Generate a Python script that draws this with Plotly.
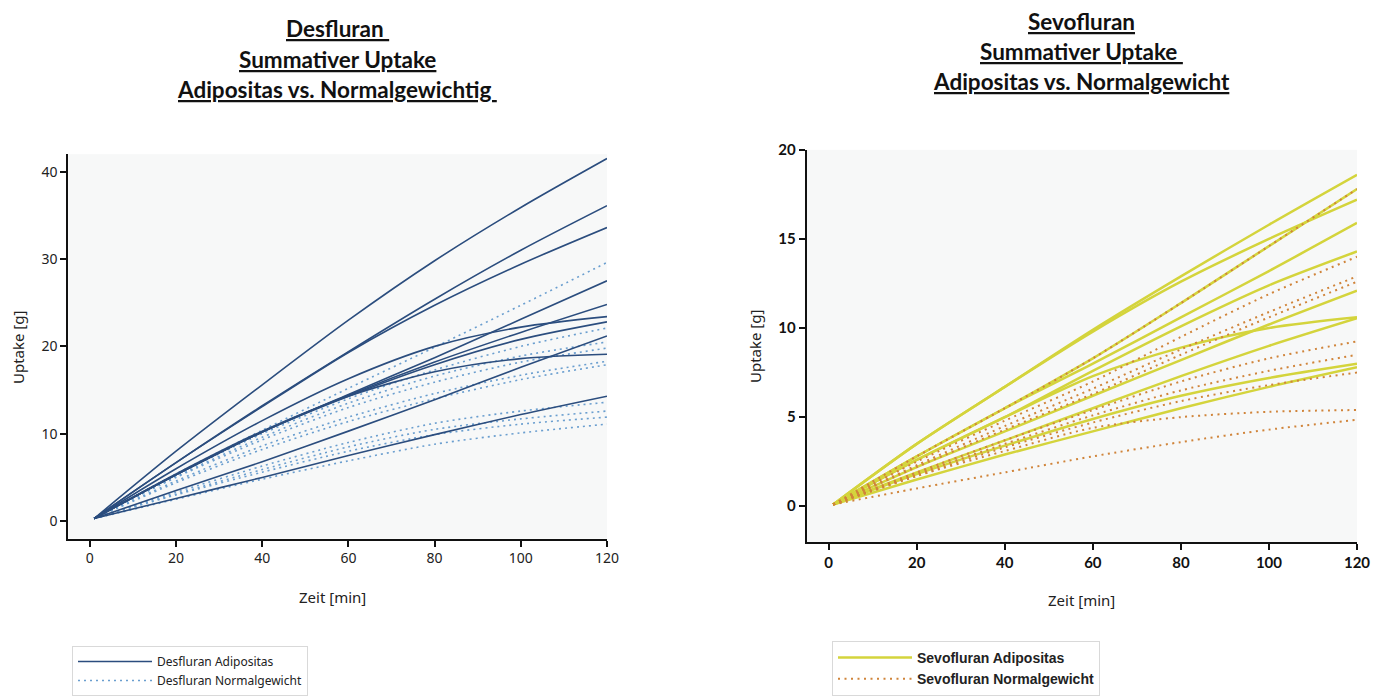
import plotly.graph_objects as go

# page body has an 8px default margin, so the figure is slightly smaller
OFF = 8
W, H = 1381 - OFF, 696 - OFF

# ---------------- data ----------------
time_min = [1, 20, 40, 60, 80, 100, 120]

des_adipositas = [
    [0.3, 8.0, 15.6, 23.0, 29.8, 35.9, 41.5],
    [0.3, 6.7, 13.2, 19.4, 25.4, 31.0, 36.1],
    [0.3, 6.7, 13.1, 19.3, 24.7, 29.4, 33.6],
    [0.3, 6.0, 11.5, 16.3, 20.0, 22.2, 23.4],
    [0.3, 5.3, 10.2, 14.5, 18.7, 23.1, 27.5],
    [0.3, 5.3, 10.2, 14.4, 18.2, 21.6, 24.8],
    [0.3, 5.3, 10.2, 14.3, 17.9, 20.8, 22.8],
    [0.3, 5.4, 10.3, 14.3, 17.1, 18.6, 19.1],
    [0.3, 3.5, 6.8, 10.3, 13.9, 17.6, 21.2],
    [0.3, 2.6, 5.0, 7.5, 9.9, 12.2, 14.3],
]

des_normal = [
    [0.3, 5.4, 10.4, 15.2, 19.9, 24.7, 29.6],
    [0.3, 5.3, 10.0, 14.0, 17.3, 20.0, 22.1],
    [0.3, 5.1, 9.6, 13.5, 16.6, 18.9, 20.5],
    [0.3, 5.0, 9.3, 13.0, 15.9, 18.2, 19.8],
    [0.3, 4.6, 8.6, 11.9, 14.6, 16.7, 18.3],
    [0.3, 4.4, 8.2, 11.4, 14.0, 16.2, 17.9],
    [0.3, 3.3, 6.3, 9.0, 11.2, 12.6, 13.6],
    [0.3, 3.1, 5.9, 8.5, 10.5, 11.7, 12.6],
    [0.3, 3.0, 5.6, 8.0, 9.9, 11.1, 11.9],
    [0.3, 2.5, 4.8, 6.9, 8.8, 10.1, 11.1],
]

sevo_adipositas = [
    [0.1, 3.5, 6.7, 9.9, 12.9, 15.8, 18.6],
    [0.1, 3.5, 6.7, 9.8, 12.6, 15.0, 17.2],
    [0.1, 2.8, 5.5, 8.3, 11.4, 14.6, 17.8],
    [0.1, 2.8, 5.5, 8.0, 10.6, 13.2, 15.9],
    [0.1, 2.6, 5.0, 7.6, 10.1, 12.4, 14.3],
    [0.1, 2.2, 4.2, 6.2, 8.2, 10.2, 12.1],
    [0.1, 2.6, 5.0, 7.3, 8.9, 10.0, 10.6],
    [0.1, 1.9, 3.7, 5.5, 7.3, 9.0, 10.55],
    [0.1, 1.8, 3.4, 4.9, 6.2, 7.2, 8.0],
    [0.1, 1.5, 2.9, 4.2, 5.5, 6.7, 7.8],
]

sevo_normal = [
    [0.1, 2.8, 5.5, 8.3, 11.4, 14.6, 17.8],
    [0.1, 2.5, 4.8, 7.0, 9.5, 11.9, 14.0],
    [0.1, 2.3, 4.5, 6.6, 8.8, 10.9, 12.9],
    [0.1, 2.2, 4.3, 6.3, 8.5, 10.6, 12.6],
    [0.1, 1.9, 3.7, 5.4, 7.0, 8.3, 9.25],
    [0.1, 1.8, 3.5, 5.1, 6.5, 7.6, 8.5],
    [0.1, 1.7, 3.3, 4.7, 5.9, 6.8, 7.5],
    [0.1, 1.7, 3.1, 4.4, 5.0, 5.3, 5.4],
    [0.1, 1.0, 1.9, 2.8, 3.6, 4.3, 4.85],
]

x_ticks = [0, 20, 40, 60, 80, 100, 120]
des_y_ticks = [0, 10, 20, 30, 40]
sevo_y_ticks = [0, 5, 10, 15, 20]

# ---------------- styles ----------------
DES_SOLID = "#2b4d7e"
DES_DOT = "#6a9ecf"
SEVO_SOLID = "#d4d43c"
SEVO_DOT = "#d0843a"

fig = go.Figure()


def add_group(series, name, color, width, dash, xa, ya, legend, group):
    for i, ys in enumerate(series):
        fig.add_trace(go.Scatter(
            x=time_min, y=ys, mode="lines", name=name,
            line=dict(color=color, width=width, dash=dash, shape="spline", smoothing=0.8),
            xaxis=xa, yaxis=ya, legend=legend, legendgroup=group,
            showlegend=(i == 0), hoverinfo="skip",
        ))


add_group(des_normal, "Desfluran Normalgewicht", DES_DOT, 1.6, "2px,4px", "x", "y", "legend", "dn")
add_group(des_adipositas, "Desfluran Adipositas", DES_SOLID, 1.6, "solid", "x", "y", "legend", "da")
add_group(sevo_adipositas, "Sevofluran Adipositas", SEVO_SOLID, 2.5, "solid", "x2", "y2", "legend2", "sa")
add_group(sevo_normal, "Sevofluran Normalgewicht", SEVO_DOT, 2.0, "2px,4.5px", "x2", "y2", "legend2", "sn")


def px_x(p):
    return (p - OFF) / W


def px_y(p):
    return 1 - (p - OFF) / H


left_tick_font = dict(family="Noto Sans", size=14, color="#222")
right_tick_font = dict(family="Lato", size=15, color="#111", weight="bold")

axis_common = dict(showgrid=False, zeroline=False, showline=True, ticks="outside",
                   ticklen=6, automargin=False)

fig.update_layout(
    width=W, height=H,
    margin=dict(l=0, r=0, t=0, b=0),
    paper_bgcolor="white",
    plot_bgcolor="#f7f8f8",
    showlegend=True,
    xaxis=dict(domain=[px_x(68.3), px_x(607)], range=[-5, 120], tickvals=x_ticks,
               linecolor="#111", linewidth=2, tickcolor="#111", tickwidth=1.5,
               tickfont=left_tick_font, anchor="y", **axis_common),
    yaxis=dict(domain=[px_y(541.7), px_y(155)], range=[-2, 42], tickvals=des_y_ticks,
               linecolor="#111", linewidth=2, tickcolor="#111", tickwidth=1.5,
               tickfont=left_tick_font, anchor="x", **axis_common),
    xaxis2=dict(domain=[px_x(806.7), px_x(1357)], range=[-5, 120], tickvals=x_ticks,
                linecolor="#111", linewidth=2, tickcolor="#111", tickwidth=1.5,
                tickfont=right_tick_font, anchor="y2", **axis_common),
    yaxis2=dict(domain=[px_y(545), px_y(150.7)], range=[-2, 20], tickvals=sevo_y_ticks,
                linecolor="#111", linewidth=2, tickcolor="#111", tickwidth=1.5,
                tickfont=right_tick_font, anchor="x2", **axis_common),
    legend=dict(x=px_x(72), y=px_y(650), xanchor="left", yanchor="top",
                bgcolor="white", bordercolor="#d9d9d9", borderwidth=1,
                font=dict(family="Noto Sans", size=12, color="#222"),
                traceorder="reversed", tracegroupgap=0, itemwidth=74),
    legend2=dict(x=px_x(832), y=px_y(645), xanchor="left", yanchor="top",
                 bgcolor="white", bordercolor="#d9d9d9", borderwidth=1,
                 font=dict(family="Liberation Sans", size=14, color="#222", weight="bold"),
                 traceorder="normal", tracegroupgap=0, itemwidth=74),
)

title_font = dict(family="Lato", size=22.5, color="#111", weight="bold")
annotations = []


def title_line(text, xc, yc):
    annotations.append(dict(text="<u>" + text + "</u>", x=px_x(xc), y=px_y(yc),
                            xref="paper", yref="paper", xanchor="center", yanchor="middle",
                            showarrow=False, font=title_font))


title_line("Desfluran\u00a0", 337, 29)
title_line("Summativer Uptake", 337, 60)
title_line("Adipositas vs. Normalgewichtig\u00a0", 337, 90)
title_line("Sevofluran", 1081, 22)
title_line("Summativer Uptake\u00a0", 1081, 52)
title_line("Adipositas vs. Normalgewicht", 1081, 82)

axis_title_font = dict(family="Noto Sans", size=15, color="#222")
annotations += [
    dict(text="Zeit [min]", x=px_x(332), y=px_y(600), xref="paper", yref="paper",
         showarrow=False, xanchor="center", yanchor="middle", font=axis_title_font),
    dict(text="Uptake [g]", x=px_x(18), y=px_y(349), xref="paper", yref="paper",
         showarrow=False, xanchor="center", yanchor="middle", textangle=-90, font=axis_title_font),
    dict(text="Zeit [min]", x=px_x(1081), y=px_y(603), xref="paper", yref="paper",
         showarrow=False, xanchor="center", yanchor="middle", font=axis_title_font),
    dict(text="Uptake [g]", x=px_x(755), y=px_y(348), xref="paper", yref="paper",
         showarrow=False, xanchor="center", yanchor="middle", textangle=-90, font=axis_title_font),
]
fig.update_layout(annotations=annotations)

fig.write_html("out.html")
